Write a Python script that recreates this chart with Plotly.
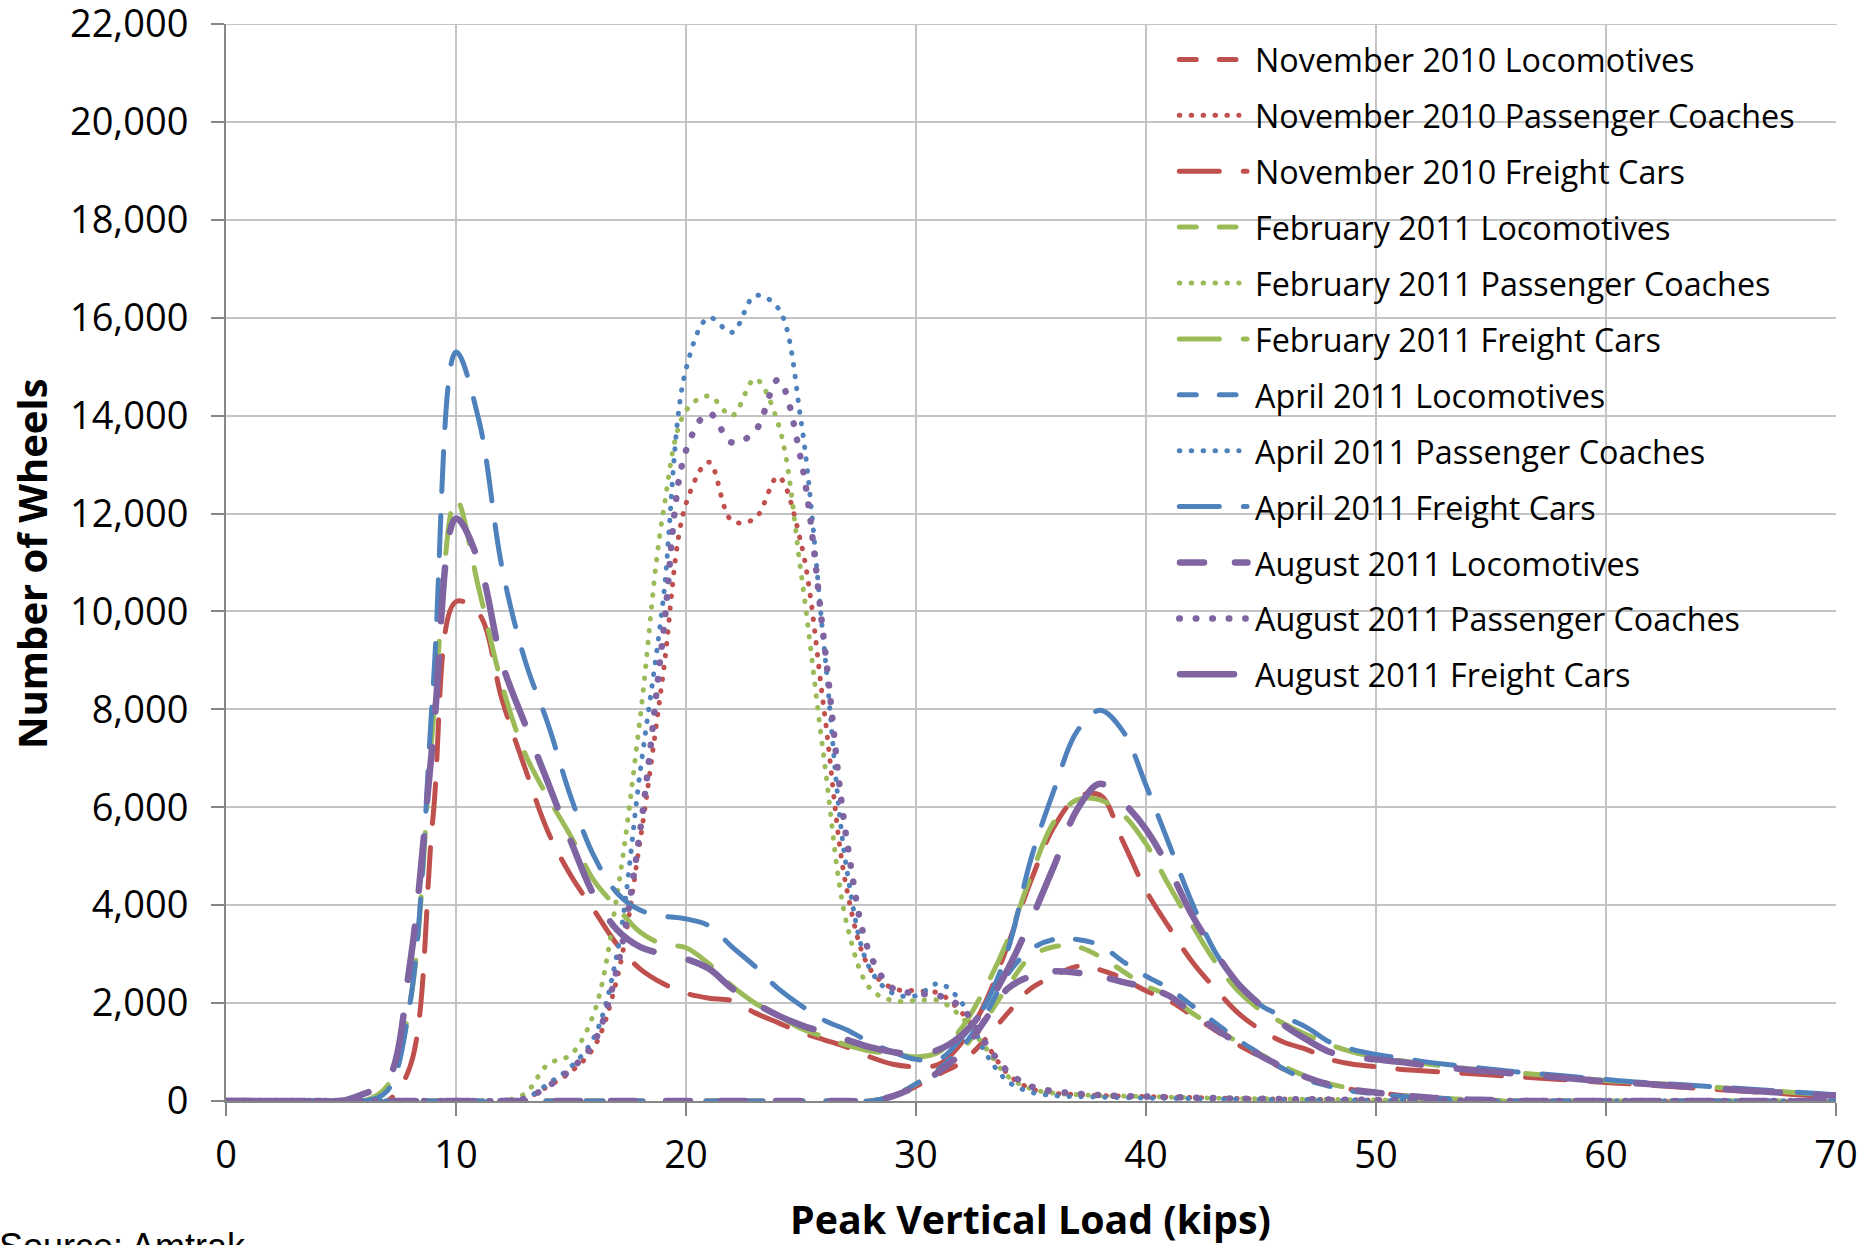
import plotly.graph_objects as go

# Peak vertical load bins (kips)
kips = list(range(0, 71))

# Number of wheels per load bin, by survey month and car type
nov_2010_locomotives = [
    0, 0, 0, 0, 0, 0, 0, 0, 0, 0, 0, 0, 0, 0, 0, 0, 0, 0, 0, 0,
    0, 0, 0, 0, 0, 0, 0, 0, 0, 100, 300, 550, 800, 1250, 1800, 2300, 2550, 2750, 2680, 2500,
    2250, 2050, 1750, 1450, 1150, 900, 650, 470, 330, 230, 170, 120, 80, 50, 30, 20, 0, 0, 0, 0,
    0, 0, 0, 0, 0, 0, 0, 0, 0, 0, 0]
nov_2010_passenger = [
    0, 0, 0, 0, 0, 0, 0, 0, 0, 0, 0, 0, 0, 50, 300, 600, 1100, 2500, 5300, 8700,
    12200, 13050, 11850, 11900, 12750, 11400, 8000, 4300, 2700, 2300, 2250, 2200, 1800, 1200, 550, 250, 160, 130, 110, 100,
    90, 80, 70, 60, 50, 45, 40, 35, 30, 25, 20, 15, 10, 10, 5, 0, 0, 0, 0, 0,
    0, 0, 0, 0, 0, 0, 0, 0, 0, 0, 0]
nov_2010_freight = [
    0, 0, 0, 0, 0, 0, 0, 0, 700, 5800, 10200, 9950, 8200, 6800, 5500, 4600, 3900, 3200, 2700, 2400,
    2200, 2100, 2050, 1800, 1600, 1400, 1250, 1100, 900, 750, 700, 750, 1200, 2000, 3200, 4500, 5600, 6200, 6250, 5300,
    4300, 3550, 2850, 2300, 1800, 1450, 1200, 1050, 850, 750, 700, 650, 620, 590, 560, 530, 500, 470, 440, 410,
    380, 350, 320, 290, 260, 230, 200, 170, 140, 110, 90]

feb_2011_locomotives = [
    0, 0, 0, 0, 0, 0, 0, 0, 0, 0, 0, 0, 0, 0, 0, 0, 0, 0, 0, 0,
    0, 0, 0, 0, 0, 0, 0, 0, 0, 100, 350, 650, 1050, 1650, 2350, 2950, 3150, 3150, 2950, 2650,
    2350, 2150, 1800, 1500, 1200, 950, 700, 500, 350, 250, 180, 120, 80, 50, 30, 20, 0, 0, 0, 0,
    0, 0, 0, 0, 0, 0, 0, 0, 0, 0, 0]
feb_2011_passenger = [
    0, 0, 0, 0, 0, 0, 0, 0, 0, 0, 0, 0, 0, 150, 750, 950, 1800, 4200, 7800, 12000,
    14100, 14400, 14000, 14750, 13850, 10800, 7000, 3600, 2300, 2050, 2050, 2050, 1700, 1100, 500, 250, 160, 130, 110, 100,
    90, 80, 70, 60, 50, 45, 40, 35, 30, 25, 20, 15, 10, 10, 5, 0, 0, 0, 0, 0,
    0, 0, 0, 0, 0, 0, 0, 0, 0, 0, 0]
feb_2011_freight = [
    0, 0, 0, 0, 0, 0, 0, 300, 2000, 7700, 12300, 10450, 8500, 7100, 6200, 5400, 4500, 3950, 3450, 3200,
    3130, 2800, 2350, 2000, 1750, 1480, 1310, 1140, 1020, 970, 900, 1000, 1500, 2300, 3300, 4600, 5700, 6150, 6150, 5850,
    5250, 4400, 3600, 2850, 2250, 1850, 1580, 1350, 1150, 1000, 900, 830, 770, 710, 660, 620, 580, 540, 500, 460,
    420, 390, 360, 330, 300, 270, 240, 210, 180, 150, 120]

apr_2011_locomotives = [
    0, 0, 0, 0, 0, 0, 0, 0, 0, 0, 0, 0, 0, 0, 0, 0, 0, 0, 0, 0,
    0, 0, 0, 0, 0, 0, 0, 0, 0, 100, 350, 650, 1100, 1750, 2600, 3100, 3300, 3300, 3180, 2850,
    2550, 2300, 1950, 1600, 1250, 950, 650, 430, 300, 200, 150, 100, 70, 50, 30, 20, 0, 0, 0, 0,
    0, 0, 0, 0, 0, 0, 0, 0, 0, 0, 0]
apr_2011_passenger = [
    0, 0, 0, 0, 0, 0, 0, 0, 0, 0, 0, 0, 0, 50, 350, 700, 1300, 3000, 6700, 10200,
    14950, 16000, 15700, 16450, 16200, 13900, 9300, 4700, 2700, 2200, 2150, 2400, 2000, 1000, 400, 180, 110, 90, 80, 70,
    60, 55, 50, 45, 40, 35, 30, 25, 20, 15, 10, 10, 5, 5, 0, 0, 0, 0, 0, 0,
    0, 0, 0, 0, 0, 0, 0, 0, 0, 0, 0]
apr_2011_freight = [
    0, 0, 0, 0, 0, 0, 0, 200, 2000, 8400, 15300, 13900, 10900, 9000, 7700, 6200, 5000, 4250, 3900, 3780,
    3720, 3580, 3150, 2750, 2300, 1950, 1650, 1450, 1200, 1000, 850, 850, 1300, 1950, 3100, 4950, 6350, 7550, 7980, 7550,
    6450, 5250, 4050, 3050, 2400, 1950, 1720, 1500, 1200, 1050, 950, 880, 810, 750, 700, 650, 600, 560, 520, 480,
    440, 400, 370, 340, 310, 280, 250, 220, 190, 160, 130]

aug_2011_locomotives = [
    0, 0, 0, 0, 0, 0, 0, 0, 0, 0, 0, 0, 0, 0, 0, 0, 0, 0, 0, 0,
    0, 0, 0, 0, 0, 0, 0, 0, 0, 100, 300, 600, 1000, 1650, 2300, 2550, 2650, 2620, 2550, 2430,
    2320, 2150, 1800, 1480, 1180, 920, 680, 480, 330, 230, 170, 120, 80, 50, 30, 20, 0, 0, 0, 0,
    0, 0, 0, 0, 0, 0, 0, 0, 0, 0, 0]
aug_2011_passenger = [
    0, 0, 0, 0, 0, 0, 0, 0, 0, 0, 0, 0, 0, 50, 300, 650, 1200, 2700, 5500, 9500,
    13290, 14050, 13450, 13680, 14730, 13100, 9400, 5300, 3000, 2300, 2200, 2150, 1900, 1200, 600, 300, 200, 150, 120, 100,
    90, 80, 70, 60, 50, 45, 40, 35, 30, 25, 20, 15, 10, 10, 5, 0, 0, 0, 0, 0,
    0, 0, 0, 0, 0, 0, 0, 0, 0, 0, 0]
aug_2011_freight = [
    0, 0, 0, 0, 0, 0, 150, 400, 2800, 7400, 11900, 11000, 8950, 7700, 6500, 5300, 4200, 3500, 3150, 3000,
    2900, 2700, 2300, 2000, 1750, 1550, 1400, 1250, 1100, 1000, 950, 1050, 1350, 1900, 2700, 3700, 4800, 5950, 6480, 6100,
    5550, 4750, 3800, 3050, 2400, 1950, 1550, 1250, 1000, 900, 850, 800, 740, 690, 640, 600, 560, 520, 480, 440,
    400, 370, 340, 310, 280, 250, 220, 190, 160, 130, 110]

months = ["November 2010", "February 2011", "April 2011", "August 2011"]
car_types = ["Locomotives", "Passenger Coaches", "Freight Cars"]
series_values = [
    [nov_2010_locomotives, nov_2010_passenger, nov_2010_freight],
    [feb_2011_locomotives, feb_2011_passenger, feb_2011_freight],
    [apr_2011_locomotives, apr_2011_passenger, apr_2011_freight],
    [aug_2011_locomotives, aug_2011_passenger, aug_2011_freight],
]

month_colors = ["#C0504D", "#9BBB59", "#4F81BD", "#8064A2"]

Y_MAX = 22000
GRID_COLOR = "#C4C4C4"

# line styles: (width, dash pattern, legend sample start px, legend sample end px)
thin_styles = [
    (5.0, "17px,23px", 1179.3, 1236.0),
    (5.0, "0.5px,11.4px", 1179.3, 1239.0),
    (5.0, "40px,24px", 1179.3, 1247.0),
]
thick_styles = [
    (6.5, "24px,31px", 1180.0, 1247.5),
    (6.5, "0.5px,16px", 1179.3, 1245.6),
    (6.5, "54px,36px", 1180.0, 1236.0),
]

W, H = 1862, 1245
M_L, M_R, M_T, M_B = 226, 26, 24, 144
PW, PH = W - M_L - M_R, H - M_T - M_B


def px_x(p):
    return (p - M_L) / PW


def px_y(p):
    return (H - M_B - p) / PH


FONT = "Open Sans"

fig = go.Figure()
shapes = []
annotations = []

# gridline along the top of the value axis
shapes.append(dict(type="line", xref="paper", yref="y", x0=0, x1=1, y0=Y_MAX, y1=Y_MAX,
                   line=dict(color=GRID_COLOR, width=2), layer="below"))

# white legend panel over the grid
shapes.append(dict(type="rect", xref="paper", yref="paper",
                   x0=px_x(1147), x1=px_x(1821), y0=px_y(705), y1=px_y(38),
                   fillcolor="white", line=dict(width=0), layer="between"))

row = 0
for mi, month in enumerate(months):
    styles = thick_styles if mi == 3 else thin_styles
    for ci, ctype in enumerate(car_types):
        width, dash, s0, s1 = styles[ci]
        name = f"{month} {ctype}"
        fig.add_trace(go.Scatter(
            x=kips, y=series_values[mi][ci], mode="lines", name=name,
            line=dict(color=month_colors[mi], width=width, dash=dash,
                      shape="spline", smoothing=1.0),
            showlegend=False, hoverinfo="x+y+name"))
        yc = 59.4 + 55.9 * row
        shapes.append(dict(type="line", xref="paper", yref="paper",
                           x0=px_x(s0), x1=px_x(s1), y0=px_y(yc), y1=px_y(yc),
                           line=dict(color=month_colors[mi], width=width, dash=dash),
                           layer="above"))
        annotations.append(dict(xref="paper", yref="paper", x=px_x(1253), y=px_y(yc),
                                xanchor="left", yanchor="middle", showarrow=False,
                                text=name, font=dict(family=FONT, size=32.3, color="black")))
        row += 1

# axis titles and source note
annotations.append(dict(xref="paper", yref="paper", x=px_x(31), y=px_y(564),
                        xanchor="center", yanchor="middle", showarrow=False, textangle=-90,
                        text="<b>Number of Wheels</b>",
                        font=dict(family=FONT, size=40, color="black")))
annotations.append(dict(xref="paper", yref="paper", x=px_x(1030), y=px_y(1219),
                        xanchor="center", yanchor="middle", showarrow=False,
                        text="<b>Peak Vertical Load (kips)</b>",
                        font=dict(family=FONT, size=39.3, color="black")))
annotations.append(dict(xref="paper", yref="paper", x=px_x(-3), y=px_y(1224),
                        xanchor="left", yanchor="top", showarrow=False,
                        text="Source: Amtrak",
                        font=dict(family="Liberation Sans", size=36, color="black")))

axis_common = dict(
    showgrid=True, gridcolor=GRID_COLOR, gridwidth=2,
    showline=True, linecolor="#868686", linewidth=2,
    ticks="outside", ticklen=13, tickwidth=2, tickcolor="#868686",
    tickfont=dict(family=FONT, size=38, color="black"),
    ticklabeloverflow="allow",
    zeroline=False, fixedrange=True,
)

fig.update_layout(
    width=W, height=H,
    margin=dict(l=M_L, r=M_R, t=M_T, b=M_B, autoexpand=False),
    paper_bgcolor="white", plot_bgcolor="white",
    showlegend=False,
    xaxis=dict(range=[0, 70], tick0=0, dtick=10, ticklabelstandoff=6, **axis_common),
    yaxis=dict(range=[0, Y_MAX], tickmode="array",
               tickvals=list(range(0, Y_MAX + 1, 2000)),
               ticktext=[f"{v:,}" for v in range(0, Y_MAX + 1, 2000)],
               ticklabelstandoff=15, **axis_common),
    shapes=shapes,
    annotations=annotations,
)

# round line caps for the dashed and dotted strokes
post = """
document.body.style.margin = '0';
var gd = document.getElementById('{plot_id}');
function roundCaps() {
  gd.querySelectorAll('.scatterlayer path.js-line, .shapelayer path').forEach(function (p) {
    p.style.strokeLinecap = 'round';
    p.style.strokeLinejoin = 'round';
  });
}
roundCaps();
gd.on('plotly_afterplot', roundCaps);
"""

fig.write_html("out.html", include_plotlyjs=True, post_script=post,
               config={"displayModeBar": False})
